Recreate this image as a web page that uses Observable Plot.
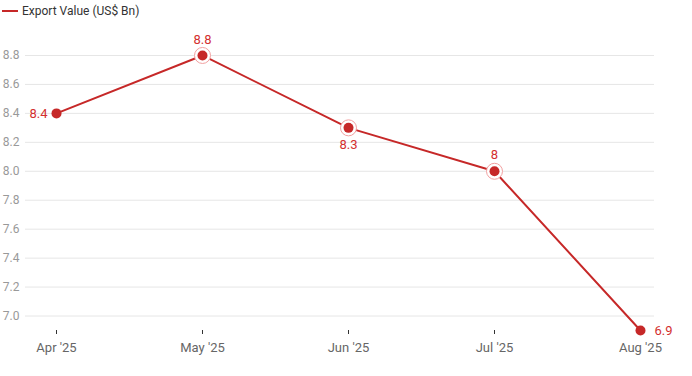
<!DOCTYPE html>
<html>
<head>
<meta charset="utf-8">
<script src="https://cdn.jsdelivr.net/npm/d3@7"></script>
<script src="https://cdn.jsdelivr.net/npm/@observablehq/plot@0.6"></script>
<style>
  html, body { margin: 0; padding: 0; background: #fff; }
  body { width: 692px; height: 376px; overflow: hidden; font-family: Roboto, "Noto Sans", sans-serif; }
  .legend { height: 24px; position: relative; font-size: 12px; color: #333; }
  .legend .sw { position: absolute; left: 2px; top: 10px; width: 16px; height: 2px; background: #c62828; }
  .legend .lb { position: absolute; left: 22px; top: 4px; line-height: 14px; }
  svg { display: block; }
</style>
</head>
<body>
<div class="legend"><span class="sw"></span><span class="lb" id="legendLabel"></span></div>
<div id="chart"></div>
<script>
const seriesName = "Export Value (US$ Bn)";
const months = ["Apr '25", "May '25", "Jun '25", "Jul '25", "Aug '25"];
const exportValues = [8.4, 8.8, 8.3, 8.0, 6.9];
const yTicks = [7.0, 7.2, 7.4, 7.6, 7.8, 8.0, 8.2, 8.4, 8.6, 8.8];

document.getElementById("legendLabel").textContent = seriesName;

const data = months.map((m, i) => ({month: m, value: exportValues[i], i}));
const red = "#c62828";
const labelRed = "#d32f2f";
const fmt = v => String(+v.toFixed(1));

const chart = Plot.plot({
  width: 692,
  height: 352,
  marginLeft: 25,
  marginRight: 38,
  marginTop: 16.5,
  marginBottom: 46,
  style: {fontFamily: "Roboto, sans-serif", fontSize: "12px", background: "#fff"},
  x: {type: "point", domain: months, padding: 0, insetLeft: 31, insetRight: 14, label: null},
  y: {domain: [6.9, 8.9], label: null},
  marks: [
    Plot.ruleY(yTicks, {stroke: "#e6e6e6", strokeWidth: 1}),
    Plot.axisY({ticks: yTicks, tickSize: 0, tickPadding: 6, tickFormat: d => d.toFixed(1), fill: "#999", label: null}),
    Plot.axisX({tickSize: 4, tickPadding: 8, stroke: "#333", fill: "#666", fontSize: 13, label: null}),
    Plot.line(data, {x: "month", y: "value", stroke: red, strokeWidth: 2}),
    Plot.dot(data, {filter: d => d.i >= 1 && d.i <= 3, x: "month", y: "value", r: 8, fill: "#fff", stroke: "#f2a0a0", strokeWidth: 1}),
    Plot.dot(data, {x: "month", y: "value", r: 5, fill: red, stroke: "none"}),
    Plot.text(data, {filter: d => d.i === 0, x: "month", y: "value", text: d => fmt(d.value), textAnchor: "end", dx: -9, fill: labelRed, fontSize: 13}),
    Plot.text(data, {filter: d => d.i === 1 || d.i === 3, x: "month", y: "value", text: d => fmt(d.value), dy: -16, fill: labelRed, fontSize: 13}),
    Plot.text(data, {filter: d => d.i === 2, x: "month", y: "value", text: d => fmt(d.value), dy: 17, fill: labelRed, fontSize: 13}),
    Plot.text(data, {filter: d => d.i === 4, x: "month", y: "value", text: d => fmt(d.value), textAnchor: "start", dx: 14, fill: labelRed, fontSize: 13})
  ]
});
document.getElementById("chart").appendChild(chart);
</script>
</body>
</html>
